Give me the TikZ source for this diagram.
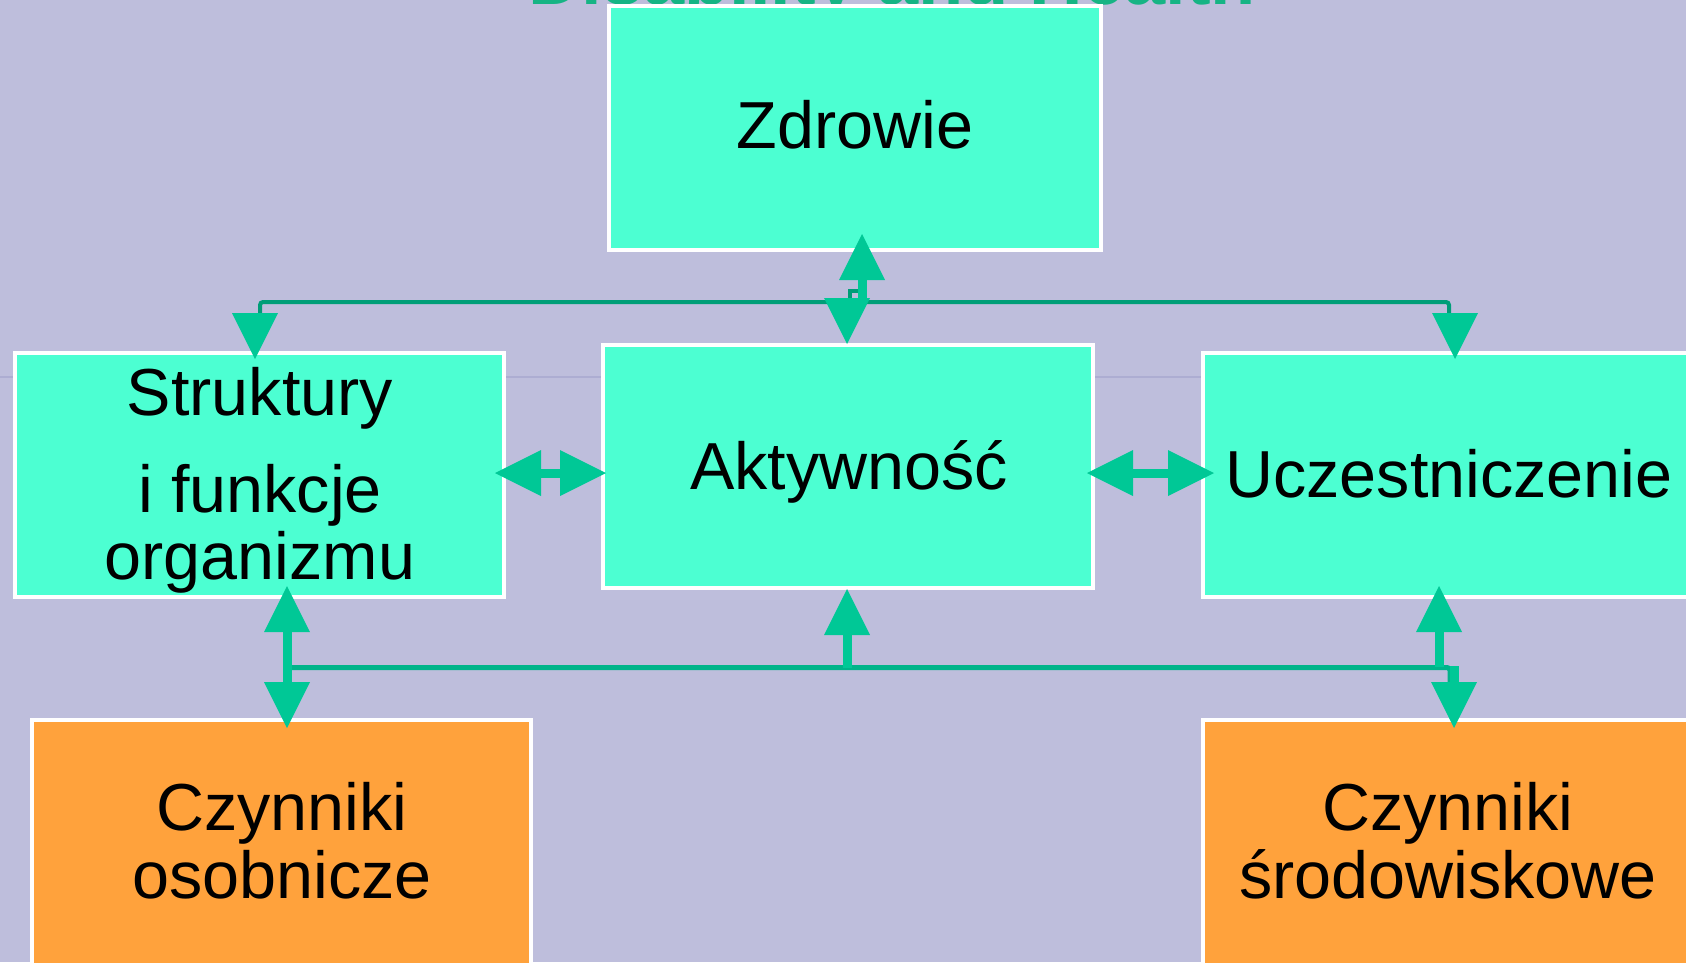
\documentclass[tikz,border=0pt]{standalone}
\usepackage{fontspec}
\setmainfont{Liberation Sans}
\usetikzlibrary{arrows.meta,calc}

\definecolor{bgc}{HTML}{BEBEDC}
\definecolor{boxc}{HTML}{4CFFD2}
\definecolor{orangec}{HTML}{FFA23C}
\definecolor{arrc}{HTML}{00C896}
\definecolor{busTc}{HTML}{009E78}
\definecolor{busBc}{HTML}{00B48A}
\definecolor{titlec}{HTML}{16B484}
\definecolor{faintc}{HTML}{ADADD2}

\begin{document}
\begin{tikzpicture}[x=1pt,y=-1pt,
  >={Triangle[length=46pt,width=46pt,line width=0pt]},
  box/.style={rectangle,draw=white,line width=4pt,fill=boxc,inner sep=0pt},
  obox/.style={box,fill=orangec},
  lbl/.style={inner sep=0pt,anchor=base,font=\fontsize{66.5pt}{66pt}\selectfont},
  ttl/.style={inner sep=0pt,anchor=base,text=titlec,font=\bfseries\fontsize{74pt}{74pt}\selectfont},
  arr/.style={draw=arrc,line width=9pt,line cap=butt},
  busT/.style={draw=busTc,line width=4pt},
  busB/.style={draw=busBc,line width=5pt},
  faint/.style={draw=faintc,line width=1.2pt}]

\useasboundingbox (0,0) rectangle (1686,962);
\clip (0,0) rectangle (1686,962);
\fill[bgc] (0,0) rectangle (1686,962);

% heading, partly hidden behind the top box
\node[ttl] (title) at (892,4) {Disability and Health};
\draw[faint] (0,377) -- (1686,377);

% boxes
\node[box, minimum width=492, minimum height=244] (zd) at (855,128) {};
\node[box, minimum width=489, minimum height=244] (st) at (259.5,475) {};
\node[box, minimum width=490, minimum height=243] (ak) at (848,466.5) {};
\node[box, minimum width=490, minimum height=244] (uc) at (1448,475) {};
\node[obox, minimum width=499, minimum height=280] (os) at (281.5,860) {};
\node[obox, minimum width=490, minimum height=280] (sr) at (1448,860) {};

% labels
\node[lbl] (tzd) at (855,148) {Zdrowie};
\node[lbl] (tst1) at (260,415) {Struktury};
\node[lbl] (tst2) at (260,512) {i funkcje};
\node[lbl] (tst3) at (260,579) {organizmu};
\node[lbl] (tak) at (849,489) {Aktywność};
\node[lbl] (tuc) at (1449,497) {Uczestniczenie};
\node[lbl] (tos1) at (282,830) {Czynniki};
\node[lbl] (tos2) at (282,898) {osobnicze};
\node[lbl] (tsr1) at (1448,830) {Czynniki};
\node[lbl] (tsr2) at (1448,898) {środowiskowe};

% upper distribution bus
\coordinate (hubT) at ($(ak.north)+(0,-41)$);
\draw[busT, rounded corners=3] ($(st.north)+(0.5,-29)$) |- (hubT) -| ($(uc.north)+(1,-29)$);
\draw[busT] ($(hubT)+(2,0)$) |- ($(zd.south)+(5,39)$);
\draw[arr,->] ($(st.north)+(-4.5,-38)$) -- ($(st.north)+(-4.5,8)$);
\draw[arr,->] ($(uc.north)+(7,-38)$) -- ($(uc.north)+(7,8)$);
\draw[arr,->] ($(ak.north)+(-1,-45)$) -- ($(ak.north)+(-1,1)$);
\draw[arr,->] ($(zd.south)+(7,48)$) -- ($(zd.south)+(7,-18)$);

% side links
\draw[arr,<->] ($(st.east)+(-11,-2)$) -- ($(ak.west)+(5,6.5)$);
\draw[arr,<->] ($(ak.east)+(-8,6.5)$) -- ($(uc.west)+(13,-2)$);

% lower distribution bus
\coordinate (hubB) at ($(ak.south)+(0,77.5)$);
\draw[busB, rounded corners=3] ($(os.north)+(4,-1)$) |- (hubB) -| ($(sr.north)+(2,-28)$);
\draw[arr,<->] ($(st.south)+(27.5,-13)$) -- ($(os.north)+(5.5,10)$);
\draw[arr,->] ($(hubB)+(-1,0)$) -- ($(ak.south)+(-1,-1)$);
\draw[arr,->] ($(uc.south)+(-9,68)$) -- ($(uc.south)+(-9,-13)$);
\draw[arr,->] ($(sr.north)+(6,-52)$) -- ($(sr.north)+(6,10)$);

\end{tikzpicture}
\end{document}
